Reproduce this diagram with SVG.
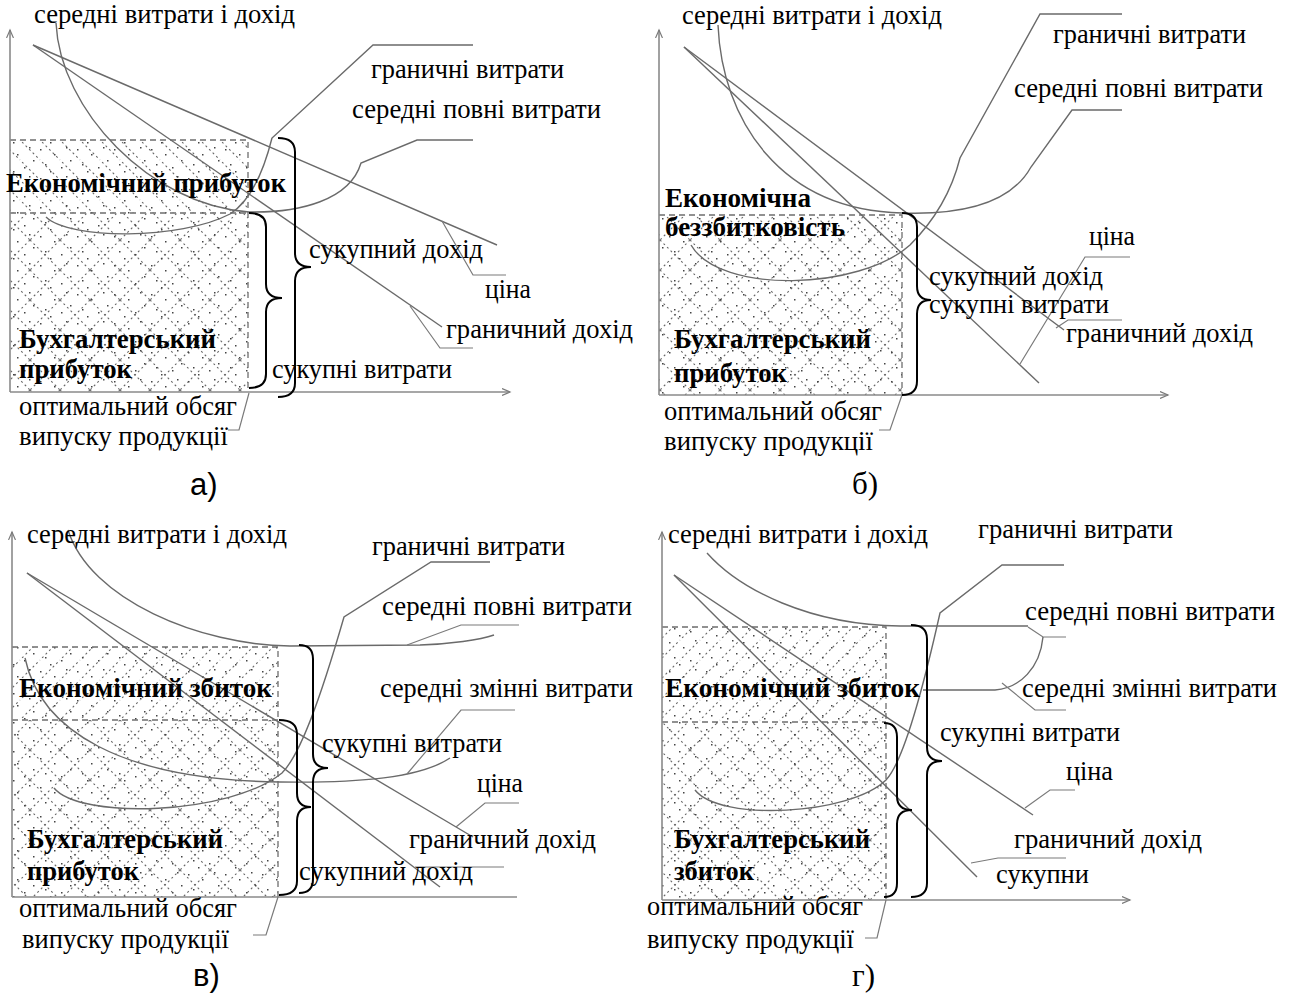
<svg xmlns="http://www.w3.org/2000/svg" width="1294" height="993" viewBox="0 0 1294 993">
<style>
  .t { font-family: "Liberation Serif", "Times New Roman", serif; font-size: 27px; fill: #000; }
  .b { font-family: "Liberation Serif", "Times New Roman", serif; font-size: 27px; font-weight: bold; fill: #000; }
  .ls { font-family: "Liberation Sans", Arial, sans-serif; font-size: 31px; fill: #000; }
  .lt { font-family: "Liberation Serif", "Times New Roman", serif; font-size: 31px; fill: #000; }
  .ax { stroke: #8a8a8a; stroke-width: 1.6; fill: none; }
  .cv { stroke: #6a6a6a; stroke-width: 1.4; fill: none; }
  .ld { stroke: #7a7a7a; stroke-width: 1.2; fill: none; }
  .ds { stroke: #6e6e6e; stroke-width: 1.3; fill: none; stroke-dasharray: 6 4; }
  .br { stroke: #000; stroke-width: 2; fill: none; }
</style>
<defs>
  <marker id="arr" markerWidth="10" markerHeight="8" refX="8" refY="4" orient="auto" markerUnits="userSpaceOnUse">
    <path d="M0,0.5 L8,4 L0,7.5" fill="none" stroke="#7a7a7a" stroke-width="1.2"/>
  </marker>
  <pattern id="hb" patternUnits="userSpaceOnUse" width="20" height="20">
    <path d="M-5,-5 L25,25 M-5,15 L5,25 M15,-5 L25,5" stroke="#666" stroke-width="1.1" stroke-dasharray="2 3" fill="none"/>
  </pattern>
  <pattern id="hf" patternUnits="userSpaceOnUse" width="20" height="20">
    <path d="M-5,25 L25,-5 M-5,5 L5,-5 M15,25 L25,15" stroke="#666" stroke-width="1.1" stroke-dasharray="2 3" fill="none"/>
  </pattern>
  <pattern id="cx" patternUnits="userSpaceOnUse" width="30" height="30">
    <path d="M0,0 L30,30 M30,0 L0,30" stroke="#666" stroke-width="1.1" stroke-dasharray="2 3" fill="none"/>
  </pattern>
  <pattern id="dt" patternUnits="userSpaceOnUse" width="37" height="29">
    <g fill="#444">
      <rect x="3" y="4" width="1.5" height="1.5"/>
      <rect x="17" y="9" width="1.5" height="1.5"/>
      <rect x="29" y="2" width="1.5" height="1.5"/>
      <rect x="8" y="19" width="1.5" height="1.5"/>
      <rect x="24" y="22" width="1.5" height="1.5"/>
      <rect x="33" y="15" width="1.5" height="1.5"/>
      <rect x="13" y="26" width="1.5" height="1.5"/>
    </g>
  </pattern>
</defs>
<rect width="1294" height="993" fill="#fff"/>

<!-- Panel a -->
<g id="panel-a">
  <g id="a-fill">
    <rect x="10" y="140" width="238" height="73" fill="url(#hb)"/>
    <rect x="10" y="213" width="238" height="179" fill="url(#cx)"/>
    <rect x="10" y="140" width="238" height="252" fill="url(#dt)"/>
    <path class="ds" d="M10,140 L248,140 L248,392 M10,213 L248,213"/>
  </g>
  <g id="a-axes">
    <path class="ax" d="M10,392 L10,30" marker-end="url(#arr)"/>
    <path class="ax" d="M10,392 L510,392" marker-end="url(#arr)"/>
  </g>
  <g id="a-connectors">
    <path class="cv" d="M33,45 L497,245"/>
    <path class="cv" d="M33,45 L442,327"/>
    <path class="cv" d="M56,23 C60,110 150,205 249,212 C300,213 350,200 361,163 L417,140 L473,140"/>
    <path class="cv" d="M46,217 C70,240 180,240 230,214 C252,200 264,170 272,138 L373,45 L473,45"/>
    <path class="ld" d="M442,221 L473,275 L506,275"/>
    <path class="ld" d="M410,306 L440,348 L473,348"/>
    <path class="ld" d="M249,393 L239,430 L228,430"/>
    <path class="br" d="M249,213 Q266,213 266,227 L266,284 Q266,298 282,298 Q266,298 266,312 L266,374 Q266,388 249,388"/>
    <path class="br" d="M278,138 Q295,138 295,152 L295,253 Q295,267 311,267 Q295,267 295,281 L295,383 Q295,397 278,397"/>
  </g>
  <g id="a-labels">
    <text class="t" x="34" y="23" textLength="261" lengthAdjust="spacingAndGlyphs">середні витрати і дохід</text>
    <text class="t" x="371" y="78" textLength="193" lengthAdjust="spacingAndGlyphs">граничні витрати</text>
    <text class="t" x="352" y="118" textLength="249" lengthAdjust="spacingAndGlyphs">середні повні витрати</text>
    <text class="b" x="6" y="192" textLength="280" lengthAdjust="spacingAndGlyphs">Економічний прибуток</text>
    <text class="t" x="309" y="258" textLength="174" lengthAdjust="spacingAndGlyphs">сукупний дохід</text>
    <text class="t" x="485" y="298" textLength="46" lengthAdjust="spacingAndGlyphs">ціна</text>
    <text class="t" x="446" y="338" textLength="187" lengthAdjust="spacingAndGlyphs">граничний дохід</text>
    <text class="b" x="19" y="348" textLength="197" lengthAdjust="spacingAndGlyphs">Бухгалтерський</text>
    <text class="b" x="19" y="378" textLength="113" lengthAdjust="spacingAndGlyphs">прибуток</text>
    <text class="t" x="272" y="378" textLength="180" lengthAdjust="spacingAndGlyphs">сукупні витрати</text>
    <text class="t" x="19" y="415" textLength="218" lengthAdjust="spacingAndGlyphs">оптимальний обсяг</text>
    <text class="t" x="19" y="445" textLength="209" lengthAdjust="spacingAndGlyphs">випуску продукції</text>
    <text class="ls" x="190" y="495">а)</text>
  </g>
</g>

<!-- Panel b -->
<g id="panel-b">
  <g id="b-fill">
    <rect x="659" y="215" width="243" height="180" fill="url(#cx)"/>
    <rect x="659" y="215" width="243" height="180" fill="url(#dt)"/>
    <path class="ds" d="M659,215 L902,215 L902,395"/>
  </g>
  <g id="b-axes">
    <path class="ax" d="M659,395 L659,30" marker-end="url(#arr)"/>
    <path class="ax" d="M659,395 L1168,395" marker-end="url(#arr)"/>
  </g>
  <g id="b-connectors">
    <path class="cv" d="M684,47 L1039,383"/>
    <path class="cv" d="M684,47 L1064,330"/>
    <path class="cv" d="M718,25 C722,120 780,210 902,213 C960,215 1010,205 1031,167 L1072,110 L1122,110"/>
    <path class="cv" d="M691,245 C720,295 860,290 910,245 C935,220 952,190 960,158 L1040,14 L1122,14"/>
    <path class="ld" d="M1020,364 L1085,257 L1130,257"/>
    <path class="ld" d="M1056,328 L1068,320 L1122,320"/>
    <path class="ld" d="M902,395 L890,430 L879,430"/>
    <path class="br" d="M902,213 Q917,213 917,227 L917,286 Q917,300 931,300 Q917,300 917,314 L917,381 Q917,395 902,395"/>
  </g>
  <g id="b-labels">
    <text class="t" x="682" y="24" textLength="260" lengthAdjust="spacingAndGlyphs">середні витрати і дохід</text>
    <text class="t" x="1053" y="43" textLength="193" lengthAdjust="spacingAndGlyphs">граничні витрати</text>
    <text class="t" x="1014" y="97" textLength="249" lengthAdjust="spacingAndGlyphs">середні повні витрати</text>
    <text class="b" x="665" y="207" textLength="146" lengthAdjust="spacingAndGlyphs">Економічна</text>
    <text class="b" x="665" y="236" textLength="180" lengthAdjust="spacingAndGlyphs">беззбитковість</text>
    <text class="t" x="1089" y="245" textLength="46" lengthAdjust="spacingAndGlyphs">ціна</text>
    <text class="t" x="929" y="285" textLength="174" lengthAdjust="spacingAndGlyphs">сукупний дохід</text>
    <text class="t" x="929" y="313" textLength="180" lengthAdjust="spacingAndGlyphs">сукупні витрати</text>
    <text class="t" x="1066" y="342" textLength="187" lengthAdjust="spacingAndGlyphs">граничний дохід</text>
    <text class="b" x="674" y="348" textLength="197" lengthAdjust="spacingAndGlyphs">Бухгалтерський</text>
    <text class="b" x="674" y="382" textLength="113" lengthAdjust="spacingAndGlyphs">прибуток</text>
    <text class="t" x="664" y="420" textLength="218" lengthAdjust="spacingAndGlyphs">оптимальний обсяг</text>
    <text class="t" x="664" y="450" textLength="209" lengthAdjust="spacingAndGlyphs">випуску продукції</text>
    <text class="lt" x="852" y="494">б)</text>
  </g>
</g>

<!-- Panel v -->
<g id="panel-v">
  <g id="v-fill">
    <rect x="12" y="647" width="266" height="73" fill="url(#hf)"/>
    <rect x="12" y="720" width="266" height="177" fill="url(#cx)"/>
    <rect x="12" y="647" width="266" height="250" fill="url(#dt)"/>
    <path class="ds" d="M12,647 L278,647 L278,897 M12,720 L278,720"/>
  </g>
  <g id="v-axes">
    <path class="ax" d="M12,897 L12,532" marker-end="url(#arr)"/>
    <path class="ax" d="M12,897 L517,897"/>
  </g>
  <g id="v-connectors">
    <path class="cv" d="M27,573 L473,837"/>
    <path class="cv" d="M27,573 L440,887"/>
    <path class="cv" d="M68,530 C90,600 200,645 290,646 L420,645 C450,644 480,640 494,635"/>
    <path class="ld" d="M407,645 L461,625 L519,625"/>
    <path class="cv" d="M54,788 C80,820 230,815 282,773 C300,755 320,700 344,617 L431,562 L490,562"/>
    <path class="cv" d="M25,658 C40,730 120,780 280,782 C360,783 420,778 450,758"/>
    <path class="ld" d="M407,774 L461,710 L515,710"/>
    <path class="ld" d="M456,827 L485,803 L519,803"/>
    <path class="ld" d="M415,867 L504,867"/>
    <path class="ld" d="M278,897 L266,935 L253,935"/>
    <path class="br" d="M299,645 Q313,645 313,659 L313,754 Q313,768 328,768 Q313,768 313,782 L313,879 Q313,893 299,893"/>
    <path class="br" d="M279,720 Q297,720 297,734 L297,793 Q297,807 311,807 Q297,807 297,821 L297,881 Q297,895 279,895"/>
  </g>
  <g id="v-labels">
    <text class="t" x="27" y="543" textLength="260" lengthAdjust="spacingAndGlyphs">середні витрати і дохід</text>
    <text class="t" x="372" y="555" textLength="193" lengthAdjust="spacingAndGlyphs">граничні витрати</text>
    <text class="t" x="382" y="615" textLength="250" lengthAdjust="spacingAndGlyphs">середні повні витрати</text>
    <text class="b" x="19" y="697" textLength="253" lengthAdjust="spacingAndGlyphs">Економічний збиток</text>
    <text class="t" x="380" y="697" textLength="253" lengthAdjust="spacingAndGlyphs">середні змінні витрати</text>
    <text class="t" x="322" y="752" textLength="180" lengthAdjust="spacingAndGlyphs">сукупні витрати</text>
    <text class="t" x="477" y="792" textLength="46" lengthAdjust="spacingAndGlyphs">ціна</text>
    <text class="t" x="409" y="848" textLength="187" lengthAdjust="spacingAndGlyphs">граничний дохід</text>
    <text class="b" x="27" y="848" textLength="196" lengthAdjust="spacingAndGlyphs">Бухгалтерський</text>
    <text class="b" x="27" y="880" textLength="112" lengthAdjust="spacingAndGlyphs">прибуток</text>
    <text class="t" x="299" y="880" textLength="174" lengthAdjust="spacingAndGlyphs">сукупний дохід</text>
    <text class="t" x="19" y="917" textLength="218" lengthAdjust="spacingAndGlyphs">оптимальний обсяг</text>
    <text class="t" x="22" y="948" textLength="207" lengthAdjust="spacingAndGlyphs">випуску продукції</text>
    <text class="ls" x="193" y="986">в)</text>
  </g>
</g>

<!-- Panel g -->
<g id="panel-g">
  <g id="g-fill">
    <rect x="662" y="627" width="224" height="95" fill="url(#hf)"/>
    <rect x="662" y="722" width="224" height="178" fill="url(#cx)"/>
    <rect x="662" y="627" width="224" height="273" fill="url(#dt)"/>
    <path class="ds" d="M662,627 L886,627 L886,900 M662,722 L886,722"/>
  </g>
  <g id="g-axes">
    <path class="ax" d="M662,900 L662,532" marker-end="url(#arr)"/>
    <path class="ax" d="M662,900 L1130,900" marker-end="url(#arr)"/>
  </g>
  <g id="g-connectors">
    <path class="cv" d="M674,575 L1033,815"/>
    <path class="cv" d="M674,575 L977,877"/>
    <path class="cv" d="M707,553 C740,590 810,625 900,626 L1028,626"/>
    <path class="ld" d="M1028,627 L1043,637 L1066,637"/>
    <path class="cv" d="M923,690 L995,690 C1020,688 1040,668 1043,637"/>
    <path class="ld" d="M1002,683 L1035,710 L1066,710"/>
    <path class="cv" d="M695,790 C720,822 850,815 886,780 C905,760 925,680 940,613 L1002,565 L1064,565"/>
    <path class="ld" d="M1025,808 L1050,790 L1075,790"/>
    <path class="ld" d="M971,863 L998,858 L1066,858"/>
    <path class="ld" d="M886,900 L877,938 L865,938"/>
    <path class="br" d="M911,625 Q927,625 927,639 L927,747 Q927,761 942,761 Q927,761 927,775 L927,883 Q927,897 911,897"/>
    <path class="br" d="M884,723 Q897,723 897,737 L897,796 Q897,810 912,810 Q897,810 897,824 L897,883 Q897,897 884,897"/>
  </g>
  <g id="g-labels">
    <text class="t" x="668" y="543" textLength="260" lengthAdjust="spacingAndGlyphs">середні витрати і дохід</text>
    <text class="t" x="978" y="538" textLength="195" lengthAdjust="spacingAndGlyphs">граничні витрати</text>
    <text class="t" x="1025" y="620" textLength="250" lengthAdjust="spacingAndGlyphs">середні повні витрати</text>
    <text class="b" x="665" y="697" textLength="255" lengthAdjust="spacingAndGlyphs">Економічний збиток</text>
    <text class="t" x="1022" y="697" textLength="255" lengthAdjust="spacingAndGlyphs">середні змінні витрати</text>
    <text class="t" x="940" y="741" textLength="180" lengthAdjust="spacingAndGlyphs">сукупні витрати</text>
    <text class="t" x="1066" y="780" textLength="47" lengthAdjust="spacingAndGlyphs">ціна</text>
    <text class="t" x="1014" y="848" textLength="188" lengthAdjust="spacingAndGlyphs">граничний дохід</text>
    <text class="b" x="674" y="848" textLength="196" lengthAdjust="spacingAndGlyphs">Бухгалтерський</text>
    <text class="b" x="674" y="880" textLength="80" lengthAdjust="spacingAndGlyphs">збиток</text>
    <text class="t" x="996" y="883" textLength="93" lengthAdjust="spacingAndGlyphs">сукупни</text>
    <text class="t" x="647" y="915" textLength="216" lengthAdjust="spacingAndGlyphs">оптимальний обсяг</text>
    <text class="t" x="647" y="948" textLength="207" lengthAdjust="spacingAndGlyphs">випуску продукції</text>
    <text class="lt" x="852" y="986">г)</text>
  </g>
</g>
</svg>
